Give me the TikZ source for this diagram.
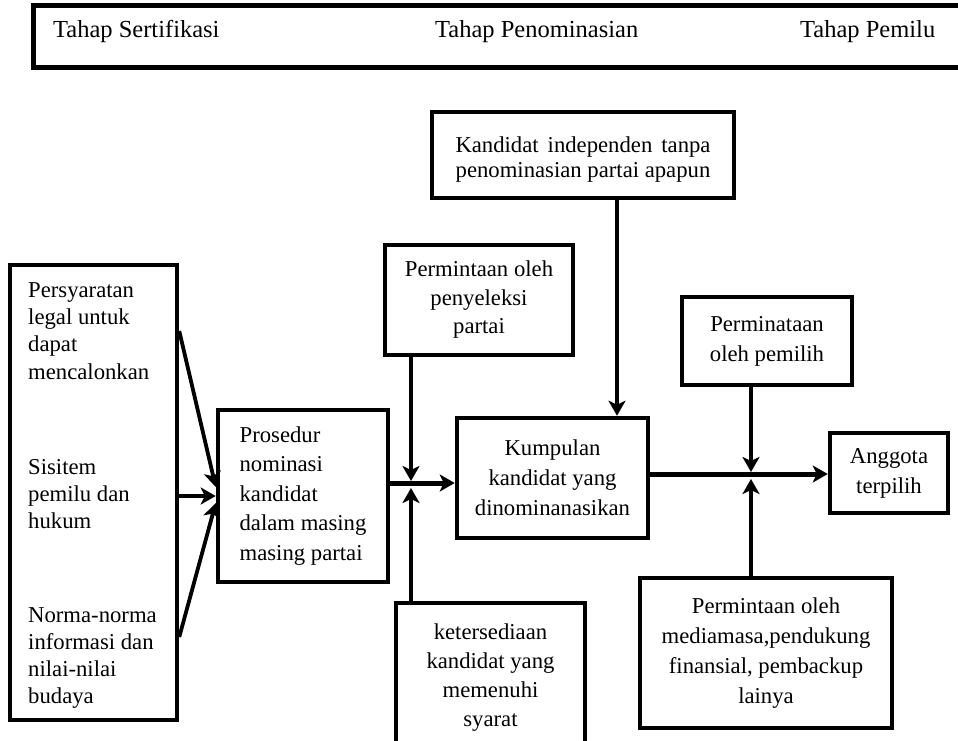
\documentclass[tikz,border=0pt]{standalone}
\usepackage{fontspec}
\setmainfont{Liberation Serif}
\usetikzlibrary{arrows.meta}
\begin{document}
\begin{tikzpicture}[x=1pt,y=-1pt,
  box/.style={draw, line width=4.5pt, inner sep=0pt, align=center},
  txt/.style={inner sep=0pt, align=left, anchor=west},
  body/.style={font=\fontsize{22.7}{28.5}\selectfont},
  lgrp/.style={font=\fontsize{22.7}{27.3}\selectfont},
  wide/.style={font=\fontsize{22.7}{30}\selectfont},
  tight/.style={font=\fontsize{22.7}{25}\selectfont},
  head/.style={inner sep=0pt, anchor=base west, font=\fontsize{24.5}{28}\selectfont},
  tip/.style={-{Stealth[length=15pt,width=17pt,inset=4pt]}},
  conn/.style={line width=3.8pt},
  main/.style={line width=5pt}
]
\useasboundingbox (0,0) rectangle (958,740);

% header band
\node[draw, line width=5pt, inner sep=0pt, minimum width=940pt, minimum height=62pt] (hdr) at (503,36) {};
\node[head] (h1) at (53,37) {Tahap Sertifikasi};
\node[head] (h2) at (435,37) {Tahap Penominasian};
\node[head] (h3) at (800,37) {Tahap Pemilu};

% left box with three groups
\node[box, minimum width=167pt, minimum height=455pt] (lbox) at (93.5,492.5) {};
\node[txt, lgrp] (g1) at (28,331) {Persyaratan\\legal untuk\\dapat\\mencalonkan};
\node[txt, lgrp] (g2) at (28,494) {Sisitem\\pemilu dan\\hukum};
\node[txt, lgrp] (g3) at (28,658) {Norma-norma\\informasi dan\\nilai-nilai\\budaya};

% boxes
\node[box, align=left, minimum width=170pt, minimum height=172pt, font=\fontsize{22.7}{29.5}\selectfont] (pros) at (303,496) {Prosedur\\nominasi\\kandidat\\dalam masing\\masing partai};
\node[box, body, minimum width=188pt, minimum height=110pt] (sel) at (479,300) {Permintaan oleh\\penyeleksi\\partai};
\node[box, minimum width=302pt, minimum height=86pt] (ind) at (583,155) {};
\node[inner sep=0pt, align=center, tight] (indt) at (583,160) {\makebox[255pt][s]{Kandidat independen tanpa}\\penominasian partai apapun};
\node[box, wide, minimum width=191pt, minimum height=120pt] (kump) at (552.5,478) {Kumpulan\\kandidat yang\\dinominanasikan};
\node[box, wide, minimum width=170pt, minimum height=88pt] (pem) at (767,341) {Perminataan\\oleh pemilih};
\node[box, wide, minimum width=118pt, minimum height=80pt] (angg) at (889,473) {Anggota\\terpilih};
\node[box, wide, minimum width=252pt, minimum height=150pt] (med) at (766,653) {Permintaan oleh\\mediamasa,pendukung\\finansial, pembackup\\lainya};
\node[box, minimum width=189pt, minimum height=147pt] (ket) at (490.5,676.5) {};
\node[inner sep=0pt, align=center, font=\fontsize{22.7}{29}\selectfont] (kett) at (490.5,677.5) {ketersediaan\\kandidat yang\\memenuhi\\syarat};

% junctions
\coordinate (j1) at (411,483);
\coordinate (j2) at (751,474);

% left inputs
\draw[conn, tip] (lbox.east |- g1) -- ([yshift=9pt]pros.west);
\draw[conn, tip] (lbox.east |- pros.west) -- (pros.west);
\draw[conn, tip] ([yshift=21pt]lbox.east |- g3) -- ([yshift=-7pt]pros.west);

% first junction
\draw[main, tip] (pros.east |- j1) -- (kump.west |- j1);
\draw[conn, tip] (sel.south -| j1) -- ([yshift=2pt]j1);
\draw[conn, tip] (ket.north -| j1) -- ([yshift=-5pt]j1);

% independent candidates
\draw[conn, tip] ([xshift=34pt]ind.south) -- ([xshift=34pt]ind.south |- kump.north);

% second junction
\draw[main, tip] (kump.east |- j2) -- (angg.west |- j2);
\draw[conn, tip] (pem.south -| j2) -- ([yshift=2pt]j2);
\draw[conn, tip] (med.north -| j2) -- ([yshift=-5pt]j2);
\end{tikzpicture}
\end{document}
